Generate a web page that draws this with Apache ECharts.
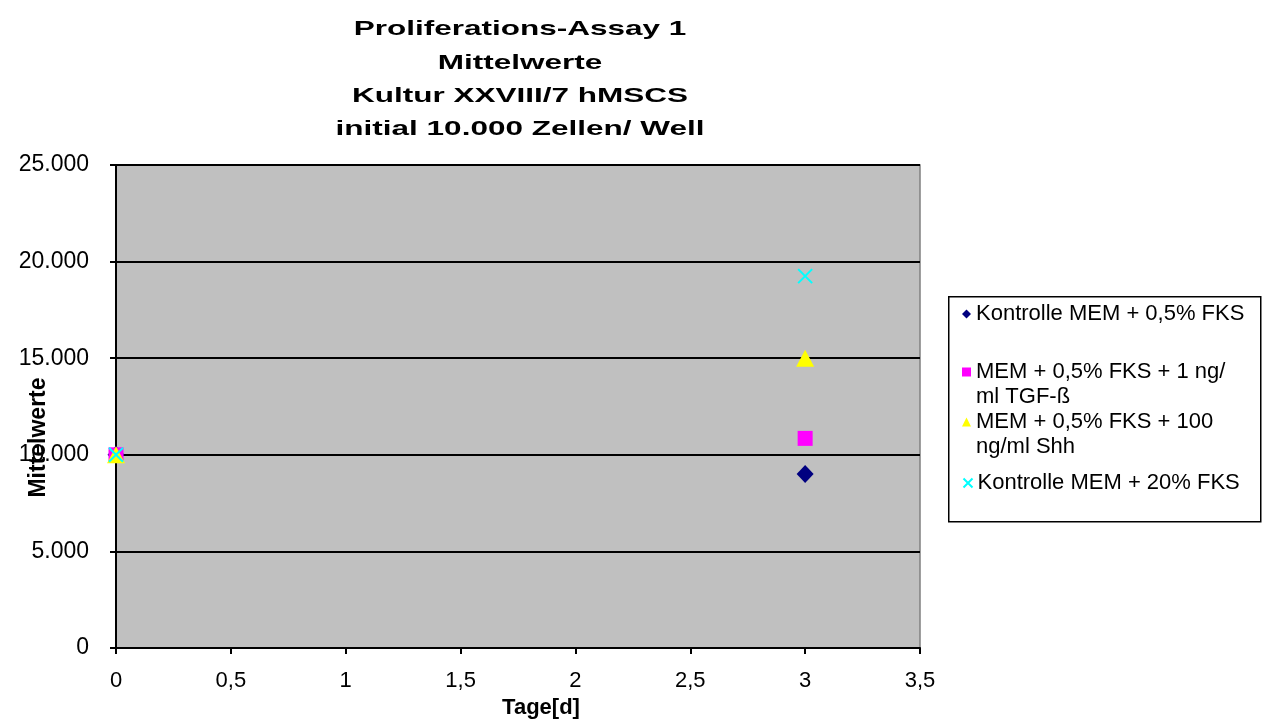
<!DOCTYPE html>
<html>
<head>
<meta charset="utf-8">
<script src="https://cdn.jsdelivr.net/npm/echarts@6/dist/echarts.min.js"></script>
<style>
html,body{margin:0;padding:0;background:#fff;}
#chart{width:1268px;height:724px;}
</style>
</head>
<body>
<div id="chart"></div>
<script>
// ---- data ----
var titleLines = ['Proliferations-Assay 1', 'Mittelwerte', 'Kultur XXVIII/7 hMSCS', 'initial 10.000 Zellen/ Well'];
var xAxisName = 'Tage[d]';
var yAxisName = 'Mittelwerte';
var seriesNames = ['Kontrolle MEM + 0,5% FKS', 'MEM + 0,5% FKS + 1 ng/ml TGF-ß', 'MEM + 0,5% FKS + 100 ng/ml Shh', 'Kontrolle MEM + 20% FKS'];
var legendLines = [['Kontrolle MEM + 0,5% FKS'], ['MEM + 0,5% FKS + 1 ng/', 'ml TGF-ß'], ['MEM + 0,5% FKS + 100', 'ng/ml Shh'], ['Kontrolle MEM + 20% FKS']];
var days = [0, 3];
var kontrolle05 = [10000, 9000];
var tgf = [10000, 10850];
var shh = [10000, 15000];
var kontrolle20 = [10000, 19250];

var FONT = '"Liberation Sans", Arial, sans-serif';

function pairs(xs, ys) { return xs.map(function (x, i) { return [x, ys[i]]; }); }

var crossPath = 'path://M0,0L10,10M10,0L0,10';

var series = [
  { name: seriesNames[0], type: 'scatter', data: pairs(days, kontrolle05), symbol: 'diamond', symbolSize: [17, 18],
    itemStyle: { color: '#000080', opacity: 1 } },
  { name: seriesNames[1], type: 'scatter', data: pairs(days, tgf), symbol: 'rect', symbolSize: 15,
    itemStyle: { color: '#FF00FF', opacity: 1 } },
  { name: seriesNames[2], type: 'scatter', data: pairs(days, shh), symbol: 'triangle', symbolSize: [18, 17],
    itemStyle: { color: '#FFFF00', opacity: 1 } },
  { name: seriesNames[3], type: 'scatter', data: pairs(days, kontrolle20), symbol: crossPath, symbolSize: 14,
    itemStyle: { color: 'none', borderColor: '#00FFFF', borderWidth: 2, opacity: 1 } }
];

var legendTops = [301.5, 334.5, 384.5, 470.5];
var legends = seriesNames.map(function (n, i) {
  var lines = legendLines[i];
  // multi-line entries get a leading empty line so the marker sits beside the first line
  var label = lines.length > 1 ? '\n' + lines.join('\n') : lines[0];
  return {
    data: [n],
    orient: 'vertical',
    left: i === 3 ? 961 : 962,
    top: legendTops[i],
    padding: 0,
    itemWidth: 9,
    itemHeight: 9,
    itemGap: 5,
    selectedMode: false,
    formatter: function () { return label; },
    textStyle: { fontFamily: FONT, fontSize: 22, color: '#000', lineHeight: 25 }
  };
});

var chart = echarts.init(document.getElementById('chart'));
chart.setOption({
  animation: false,
  backgroundColor: '#ffffff',
  legend: legends,
  grid: {
    left: 116, top: 165, right: 348, bottom: 76,
    outerBoundsMode: 'none',
    show: true, backgroundColor: '#C0C0C0', borderColor: '#808080', borderWidth: 1.5
  },
  xAxis: {
    type: 'value', min: 0, max: 3.5, interval: 0.5,
    name: xAxisName, nameLocation: 'middle', nameGap: 49, nameMoveOverlap: false,
    nameTextStyle: { fontFamily: FONT, fontSize: 22, fontWeight: 'bold', color: '#000', padding: [0, 0, 0, 46] },
    axisLine: { show: true, onZero: false, lineStyle: { color: '#000', width: 2 } },
    axisTick: { show: true, inside: false, length: 6, lineStyle: { color: '#000', width: 2 } },
    axisLabel: { fontFamily: FONT, fontSize: 22, color: '#000', margin: 22,
      formatter: function (v) { return String(v).replace('.', ','); } },
    splitLine: { show: false }
  },
  yAxis: {
    type: 'value', min: 0, max: 25000, interval: 5000,
    name: yAxisName, nameLocation: 'middle', nameGap: 66, nameRotate: 90, nameMoveOverlap: false,
    nameTextStyle: { fontFamily: FONT, fontSize: 23, fontWeight: 'bold', color: '#000', padding: [0, 62, 0, 0] },
    axisLine: { show: true, lineStyle: { color: '#000', width: 2 } },
    axisTick: { show: true, inside: false, length: 6, lineStyle: { color: '#000', width: 2 } },
    axisLabel: { fontFamily: FONT, fontSize: 23, color: '#000', margin: 27,
      formatter: function (v) { return String(v).replace(/\B(?=(\d{3})+(?!\d))/g, '.'); } },
    splitLine: { show: true, lineStyle: { color: '#000', width: 2 } }
  },
  graphic: [
    { type: 'rect', left: 948, top: 296, shape: { width: 312, height: 225 },
      style: { fill: '#fff', stroke: '#000', lineWidth: 1.5 }, z: -1 },
    { type: 'text', x: 520, y: 13, scaleX: 1.5, z: 10,
      style: { text: titleLines.join('\n'), fill: '#000', align: 'center', verticalAlign: 'top',
        font: 'bold 21px ' + FONT, lineHeight: 33.3 } }
  ],
  series: series
});
</script>
</body>
</html>
